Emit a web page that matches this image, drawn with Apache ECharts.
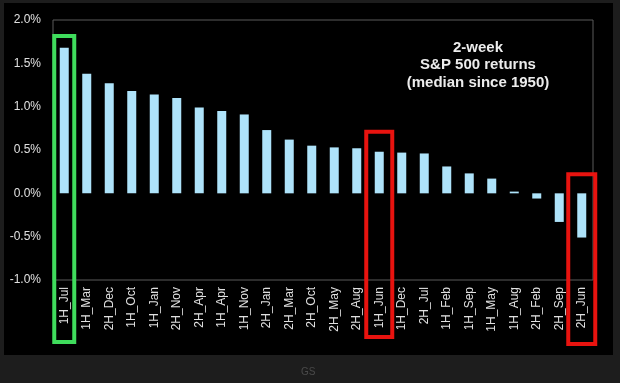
<!DOCTYPE html>
<html>
<head>
<meta charset="utf-8">
<script src="https://cdn.jsdelivr.net/npm/echarts@6/dist/echarts.min.js"></script>
<style>
html,body{margin:0;padding:0;background:#1d1d1d;}
#c{width:620px;height:383px;}
</style>
</head>
<body>
<div id="c"></div>
<script>
const categories = ['1H_Jul','1H_Mar','2H_Dec','1H_Oct','1H_Jan','2H_Nov','2H_Apr','1H_Apr','1H_Nov','2H_Jan','2H_Mar','2H_Oct','2H_May','2H_Aug','1H_Jun','1H_Dec','2H_Jul','1H_Feb','1H_Sep','1H_May','1H_Aug','2H_Feb','2H_Sep','2H_Jun'];
const returns = [1.68,1.38,1.27,1.18,1.14,1.10,0.99,0.95,0.91,0.73,0.62,0.55,0.53,0.52,0.48,0.47,0.46,0.31,0.23,0.17,0.02,-0.06,-0.33,-0.51];
const yTicks = [-1.0,-0.5,0.0,0.5,1.0,1.5,2.0];
const titleLines = ['2-week','S&P 500 returns','(median since 1950)'];
const highlightCats = ['1H_Jul','1H_Jun','2H_Jun'];
const highlightTops = [1.815,0.71,0.22];
const highlightColors = ['#3fdc5c','#e8130f','#e8130f'];

const chart = echarts.init(document.getElementById('c'), null, {renderer:'canvas'});
const option = {
  backgroundColor: '#1d1d1d',
  animation: false,
  graphic: [
    {type:'rect', z:-10, shape:{x:4,y:3,width:609,height:352}, style:{fill:'#000'}, silent:true},
    {type:'text', left:301, top:367, style:{text:'GS', fill:'#4a4a4a', font:'10px "Liberation Sans", Arial'}}
  ],
  title: {
    text: titleLines.join('\n'),
    left: 473, top: 34, textAlign: 'center',
    textStyle: {color:'#ececec', fontSize:15, fontWeight:'bold', fontFamily:'"Liberation Sans", Arial', lineHeight:17.5}
  },
  grid: {left:53, right:27, top:20, bottom:103, show:true, borderColor:'#5a5a5a', borderWidth:1, backgroundColor:'transparent'},
  xAxis: {
    type:'category', data:categories,
    axisLine:{show:false}, axisTick:{show:false},
    axisLabel:{rotate:90, interval:0, color:'#e0e0e0', fontSize:12, fontFamily:'"Liberation Sans", Arial', margin:7}
  },
  yAxis: {
    type:'value', min:yTicks[0], max:yTicks[yTicks.length-1], interval:0.5,
    splitLine:{show:false}, axisLine:{show:false}, axisTick:{show:false},
    axisLabel:{color:'#e0e0e0', fontSize:12, fontFamily:'"Liberation Sans", Arial', margin:12,
      formatter: v => v.toFixed(1) + '%'}
  },
  series: [{
    type:'bar', data:returns, barWidth:'40%',
    itemStyle:{color:'#aee3fa'}
  }]
};
chart.setOption(option);

// Highlight boxes positioned through the chart's own scales
const gridBottom = chart.convertToPixel({yAxisIndex:0}, yTicks[0]);
const halfWidths = [10, 13, 13.5];
const bottomOffsets = [62, 57, 64];
const boxes = highlightCats.map((cat, i) => {
  const cx = chart.convertToPixel({xAxisIndex:0}, cat);
  const top = chart.convertToPixel({yAxisIndex:0}, highlightTops[i]);
  const bottom = gridBottom + bottomOffsets[i];
  return {type:'rect', z:100, silent:true,
    shape:{x:cx-halfWidths[i], y:top, width:halfWidths[i]*2, height:bottom-top},
    style:{fill:'none', stroke:highlightColors[i], lineWidth:4}};
});
chart.setOption({graphic: option.graphic.concat(boxes)});
</script>
</body>
</html>
